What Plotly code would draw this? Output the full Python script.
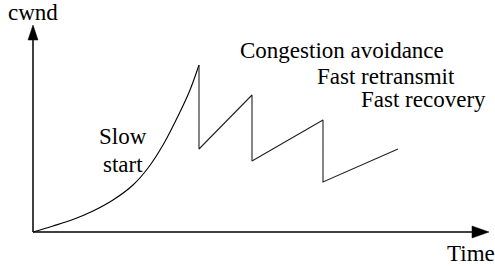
import plotly.graph_objects as go

# Slow start phase (time, cwnd)
slow_time = [0, 20, 40, 60, 80, 100, 115, 130, 147, 157, 166]
slow_cwnd = [0, 6, 12.5, 21, 32, 47, 64, 87, 120, 142, 167]

# Congestion avoidance / fast retransmit / fast recovery sawtooth
saw_time = [166, 166, 219, 219, 290, 290, 365]
saw_cwnd = [167, 83, 137, 71, 112, 50, 83]

labels = {
    "cwnd": (0, 220),
    "Slow": (89.5, 96),
    "start": (89.5, 68),
    "Congestion avoidance": (308.5, 182),
    "Fast retransmit": (352.5, 156),
    "Fast recovery": (390.5, 133),
    "Time": (438, -21),
}

FONT = "Liberation Serif"

fig = go.Figure()
fig.add_trace(go.Scatter(x=slow_time, y=slow_cwnd, mode="lines",
                         line=dict(color="black", width=1.1, shape="spline", smoothing=1.0),
                         hoverinfo="skip"))
fig.add_trace(go.Scatter(x=saw_time, y=saw_cwnd, mode="lines",
                         line=dict(color="#222222", width=1.1),
                         hoverinfo="skip"))

# axes with arrows
fig.add_shape(type="line", x0=0, y0=0, x1=0, y1=195, line=dict(color="black", width=1.5))
fig.add_shape(type="path", path="M -5 192 L 5 192 L 0 207 Z", fillcolor="black",
              line=dict(color="black", width=0.5))
fig.add_shape(type="line", x0=0, y0=0, x1=442, y1=0, line=dict(color="black", width=1.5))
fig.add_shape(type="path", path="M 439 -6 L 439 6 L 456 0 Z", fillcolor="black",
              line=dict(color="black", width=0.5))

for txt, (x, y) in labels.items():
    fig.add_annotation(x=x, y=y, text=txt, showarrow=False, xanchor="center", yanchor="middle",
                       font=dict(family=FONT, size=23, color="black"))

fig.update_layout(
    width=495, height=266,
    margin=dict(l=0, r=0, t=0, b=0),
    paper_bgcolor="white", plot_bgcolor="white",
    showlegend=False,
    xaxis=dict(range=[-33, 462], visible=False, fixedrange=True),
    yaxis=dict(range=[-34, 232], visible=False, fixedrange=True),
)

fig.write_html("out.html", config={"displayModeBar": False},
               post_script="document.body.style.margin='0';document.body.style.overflow='hidden';")
